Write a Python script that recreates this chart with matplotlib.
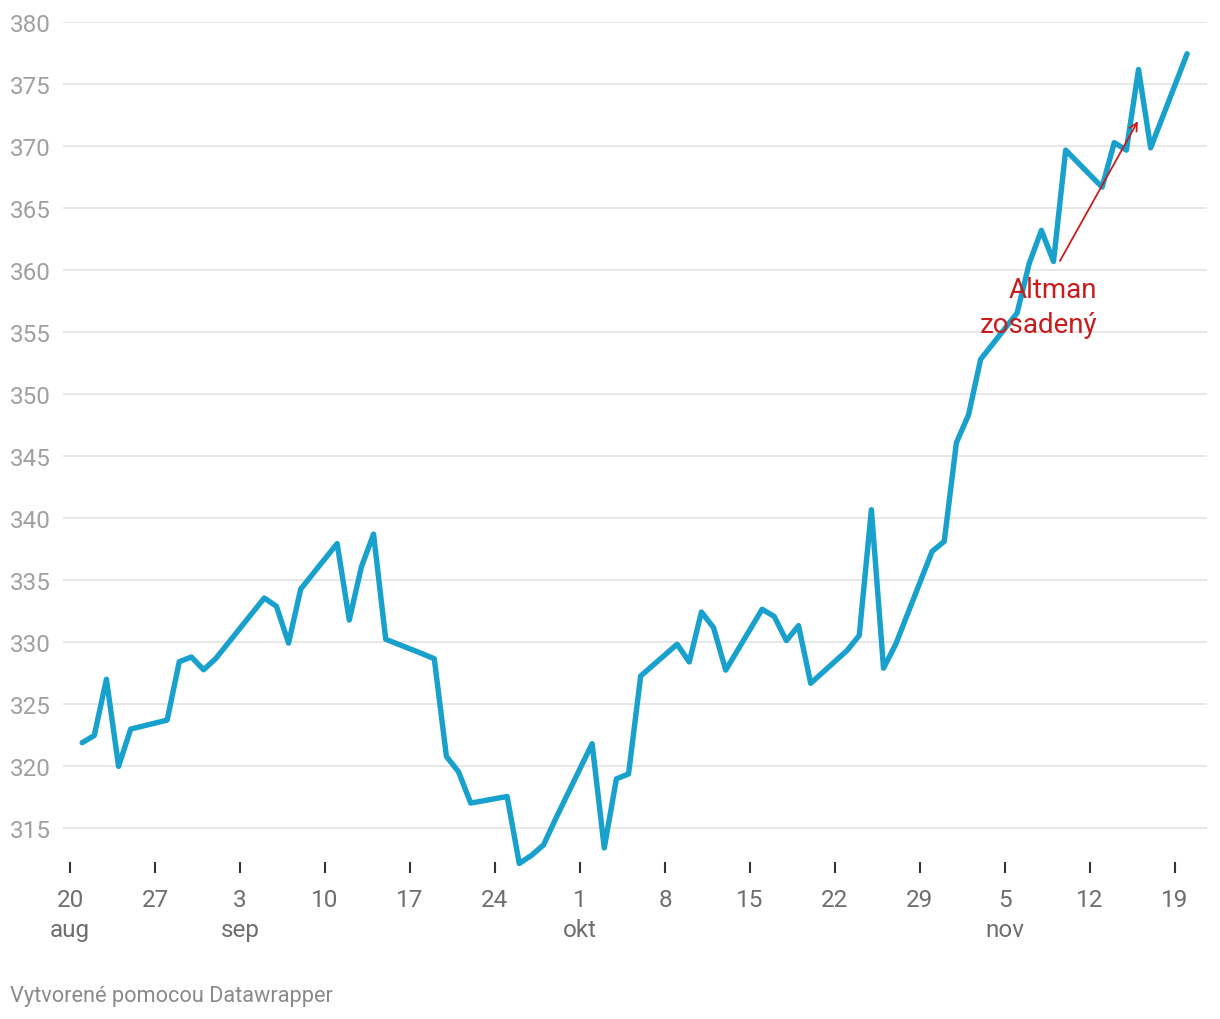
import matplotlib
matplotlib.use("Agg")
import matplotlib.pyplot as plt
import datetime as dt

plt.rcParams['font.family'] = ['Roboto', 'DejaVu Sans']

# closing values, trading days aug 21 - nov 20
dates = ["2023-08-21", "2023-08-22", "2023-08-23", "2023-08-24", "2023-08-25",
         "2023-08-28", "2023-08-29", "2023-08-30", "2023-08-31", "2023-09-01",
         "2023-09-05", "2023-09-06", "2023-09-07", "2023-09-08",
         "2023-09-11", "2023-09-12", "2023-09-13", "2023-09-14", "2023-09-15",
         "2023-09-18", "2023-09-19", "2023-09-20", "2023-09-21", "2023-09-22",
         "2023-09-25", "2023-09-26", "2023-09-27", "2023-09-28", "2023-09-29",
         "2023-10-02", "2023-10-03", "2023-10-04", "2023-10-05", "2023-10-06",
         "2023-10-09", "2023-10-10", "2023-10-11", "2023-10-12", "2023-10-13",
         "2023-10-16", "2023-10-17", "2023-10-18", "2023-10-19", "2023-10-20",
         "2023-10-23", "2023-10-24", "2023-10-25", "2023-10-26", "2023-10-27",
         "2023-10-30", "2023-10-31", "2023-11-01", "2023-11-02", "2023-11-03",
         "2023-11-06", "2023-11-07", "2023-11-08", "2023-11-09", "2023-11-10",
         "2023-11-13", "2023-11-14", "2023-11-15", "2023-11-16", "2023-11-17",
         "2023-11-20"]
values = [321.88, 322.46, 327.00, 319.97, 322.98,
          323.70, 328.41, 328.79, 327.76, 328.66,
          333.55, 332.88, 329.91, 334.27,
          337.94, 331.77, 336.06, 338.70, 330.22,
          329.06, 328.65, 320.77, 319.53, 317.01,
          317.54, 312.14, 312.79, 313.64, 315.75,
          321.80, 313.39, 318.96, 319.36, 327.26,
          329.82, 328.39, 332.42, 331.16, 327.73,
          332.64, 332.06, 330.11, 331.32, 326.67,
          329.32, 330.53, 340.67, 327.89, 329.81,
          337.31, 338.11, 346.07, 348.32, 352.80,
          356.53, 360.53, 363.20, 360.69, 369.67,
          366.68, 370.27, 369.67, 376.17, 369.85,
          377.44]

tick_dates = ["2023-08-20", "2023-08-27", "2023-09-03", "2023-09-10", "2023-09-17",
              "2023-09-24", "2023-10-01", "2023-10-08", "2023-10-15", "2023-10-22",
              "2023-10-29", "2023-11-05", "2023-11-12", "2023-11-19"]
tick_labels = ["20\naug", "27", "3\nsep", "10", "17", "24", "1\nokt", "8", "15",
               "22", "29", "5\nnov", "12", "19"]
y_ticks = list(range(315, 381, 5))

note_text = "Altman\nzosadený"

x = [dt.datetime.strptime(d, "%Y-%m-%d") for d in dates]
xt = [dt.datetime.strptime(d, "%Y-%m-%d") for d in tick_dates]

fig = plt.figure(figsize=(12.2, 10.2), dpi=100)
ax = fig.add_axes([63/1220, 1 - 863/1020, (1207-63)/1220, (863-23)/1020])

start = xt[0]
ax.set_xlim(start - dt.timedelta(days=0.577), start + dt.timedelta(days=93.64))
ax.set_ylim(312.258, 380)

ax.plot(x, values, color='#18a1cd', lw=3.9, solid_joinstyle='round',
        solid_capstyle='round', clip_on=False, zorder=3)

for s in ax.spines.values():
    s.set_visible(False)

ax.set_yticks(y_ticks)
ax.set_yticklabels([str(v) for v in y_ticks])
ax.yaxis.grid(True, color='#e3e3e3', lw=1.2)
ax.tick_params(axis='y', length=0, pad=38, labelsize=17.5, labelcolor='#a0a0a0')
for lab in ax.get_yticklabels():
    lab.set_horizontalalignment('left')

ax.set_xticks(xt)
ax.set_xticklabels(tick_labels)
ax.tick_params(axis='x', length=8, width=1.5, color='#333333', pad=11,
               labelsize=17.5, labelcolor='#6e6e6e')
for lab in ax.get_xticklabels():
    lab.set_linespacing(1.36)
ax.set_axisbelow(True)

# annotation
ax.annotate("", xy=(start + dt.timedelta(days=87.95), 372.0),
            xytext=(start + dt.timedelta(days=81.53), 360.73),
            arrowprops=dict(arrowstyle='->', color='#c71e1d', lw=1.3,
                            mutation_scale=14, shrinkA=0, shrinkB=0), zorder=4)
ax.text(start + dt.timedelta(days=84.6), 359.55, note_text, ha='right', va='top',
        fontsize=20, color='#c71e1d', linespacing=1.42, zorder=5)

fig.text(10/1220, 1 - 997/1020, "Vytvorené pomocou Datawrapper", ha='left',
         va='center', fontsize=15.7, color='#8a8a8a')

fig.savefig("out.png", dpi=100)
